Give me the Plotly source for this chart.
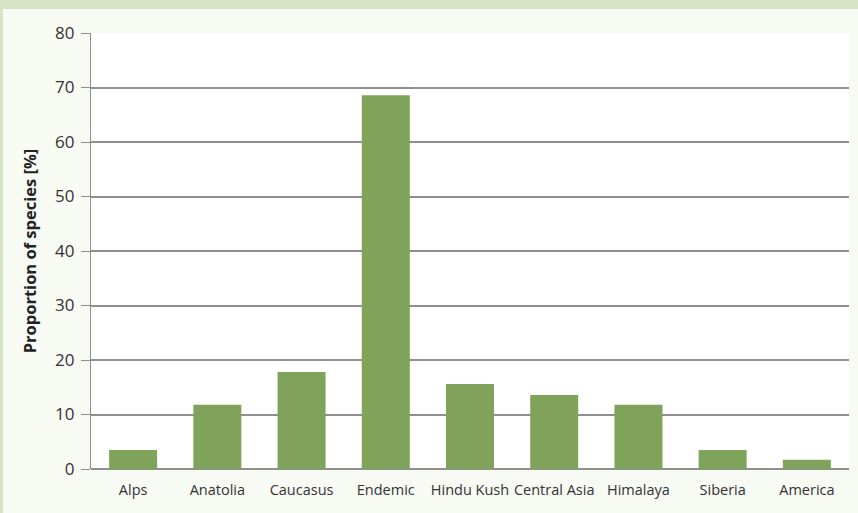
import plotly.graph_objects as go

categories = ["Alps", "Anatolia", "Caucasus", "Endemic", "Hindu Kush",
              "Central Asia", "Himalaya", "Siberia", "America"]
values = [3.5, 11.8, 17.8, 68.6, 15.6, 13.6, 11.8, 3.5, 1.7]
y_ticks = [0, 10, 20, 30, 40, 50, 60, 70, 80]

W, H = 858, 513
L, R, T, B = 91, 9.3, 33, 44
pw, ph = W - L - R, H - T - B

def px_x(x):
    return (x - L) / pw

def px_y(y):
    return 1 - (y - T) / ph

fig = go.Figure()
fig.add_trace(go.Bar(
    x=categories, y=values,
    marker=dict(color="#7fa35a", line=dict(width=0)),
    hoverinfo="x+y",
))

grid = "#8f8f8f"
font_fam = "Open Sans, Noto Sans, sans-serif"

fig.update_layout(
    width=W, height=H,
    margin=dict(l=L, r=R, t=T, b=B, pad=0, autoexpand=False),
    paper_bgcolor="#f8faf4",
    plot_bgcolor="#ffffff",
    bargap=0.43,
    showlegend=False,
    font=dict(family=font_fam, color="#333333", size=14),
    xaxis=dict(
        showgrid=False, showline=False, ticks="", zeroline=False,
        tickfont=dict(size=14.5, color="#333333"),
        ticklabelstandoff=10,
        automargin=False,
        fixedrange=True,
    ),
    yaxis=dict(
        range=[0, 80], tickvals=y_ticks, ticktext=[str(v) for v in y_ticks],
        showgrid=True, gridcolor=grid, gridwidth=1.5,
        zeroline=True, zerolinecolor=grid, zerolinewidth=2,
        showline=True, linecolor=grid, linewidth=1.2,
        ticks="outside", ticklen=9, tickcolor=grid, tickwidth=1.2,
        tickfont=dict(size=17, color="#333333"),
        ticklabelstandoff=3,
        title=dict(text="<b>Proportion of species [%]</b>",
                   font=dict(size=16.5, color="#222222"), standoff=14),
        automargin=False,
        fixedrange=True,
    ),
    shapes=[
        dict(type="rect", xref="paper", yref="paper",
             x0=px_x(-20), x1=px_x(W + 20), y0=px_y(9), y1=px_y(-20),
             fillcolor="#d7e4c4", line=dict(width=0), layer="below"),
        dict(type="rect", xref="paper", yref="paper",
             x0=px_x(-20), x1=px_x(3), y0=px_y(H + 20), y1=px_y(-20),
             fillcolor="#d7e4c4", line=dict(width=0), layer="below"),
    ],
)

fig.write_html(
    "out.html",
    config={"displayModeBar": False},
    post_script="document.body.style.margin='0';document.body.style.overflow='hidden';",
)
